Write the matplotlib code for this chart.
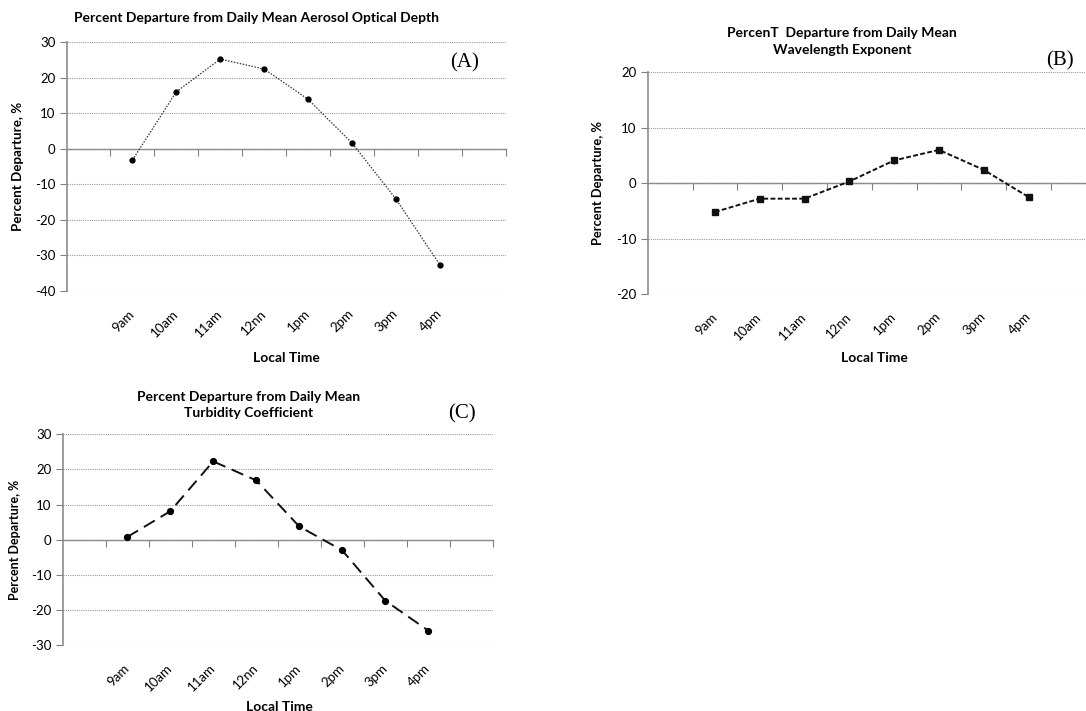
import numpy as np
import matplotlib
matplotlib.use("Agg")
import matplotlib.pyplot as plt

plt.rcParams['font.family'] = ['Lato', 'DejaVu Sans']
plt.rcParams['axes.unicode_minus'] = False

W, H = 1086, 711

times = ["9am", "10am", "11am", "12nn", "1pm", "2pm", "3pm", "4pm"]

# values, percent departure from the daily mean
aod = [-3.2, 16.0, 25.2, 22.4, 13.9, 1.6, -14.1, -32.6]
alpha = [-5.2, -2.8, -2.8, 0.3, 4.1, 6.0, 2.4, -2.5]
alpha_err = [0.2, 0.4, 0.5, 0.4, 0.6, 0.6, 0.4, 0.2]
beta = [0.8, 8.1, 22.3, 16.9, 3.8, -3.0, -17.3, -25.8]


def frac(x, y):
    # pixel position -> figure fraction
    return x / W, 1 - y / H


def add_axes(left, top, right, bottom):
    return fig.add_axes([left / W, 1 - bottom / H, (right - left) / W, (bottom - top) / H])


def setup_panel(ax, ylim, step, pad):
    x = np.arange(len(times))
    ax.set_xlim(-1.5, len(times) + 0.5)
    ax.set_ylim(*ylim)
    ax.set_yticks(np.arange(ylim[0], ylim[1] + 1, step))
    ax.set_xticks(x)
    ax.set_xticklabels(times, rotation=45, ha="right", va="center", rotation_mode="anchor")
    ax.tick_params(axis="x", length=0, pad=pad, labelsize=9.5)
    ax.tick_params(axis="y", length=5, width=0.8, color="#808080", labelsize=9.5, pad=3)
    for s in ["top", "right", "bottom"]:
        ax.spines[s].set_visible(False)
    ax.spines["left"].set_color("#8c8c8c")
    ax.spines["left"].set_linewidth(1.2)
    ax.grid(axis="y", linestyle=(0, (1, 1)), color="#9a9a9a", linewidth=0.8)
    ax.set_axisbelow(True)

    # horizontal axis crosses at zero, ticks between categories
    sec = ax.secondary_xaxis(-ylim[0] / (ylim[1] - ylim[0]))
    sec.set_alignment("bottom")
    sec.set_xticks(np.arange(-0.5, len(times) + 1, 1))
    sec.set_xticklabels([])
    sec.tick_params(length=5, width=0.8, color="#808080", direction="out")
    for s in ["top", "bottom"]:
        sec.spines[s].set_color("#808080")
        sec.spines[s].set_linewidth(1.0)


fig = plt.figure(figsize=(W / 100, H / 100), dpi=100)

# (A) aerosol optical depth
axA = add_axes(66.5, 42, 505.7, 291)
setup_panel(axA, (-40, 30), 10, 15)
axA.plot(np.arange(8), aod, color="#333333", linestyle=(0, (1.2, 1.2)), linewidth=0.9,
         marker="o", markersize=3.5, markerfacecolor="black", markeredgecolor="black")
fig.text(*frac(257, 18), "Percent Departure from Daily Mean Aerosol Optical Depth",
         ha="center", va="center", fontsize=10, fontweight="bold")
fig.text(*frac(18, 166), "Percent Departure, %", rotation=90, ha="center", va="center",
         fontsize=9.6, fontweight="bold")
fig.text(*frac(286, 358), "Local Time", ha="center", va="center", fontsize=10, fontweight="bold")
fig.text(*frac(465, 63), "(A)", ha="center", va="center", fontsize=15,
         family="Liberation Serif")

# (B) wavelength exponent
axB = add_axes(647.7, 72.3, 1095.7, 294)
setup_panel(axB, (-20, 20), 10, 15)
axB.errorbar(np.arange(8), alpha, yerr=alpha_err, color="#111111", linestyle=(0, (2.5, 1.2)),
             linewidth=1.4, marker="s", markersize=4, elinewidth=1, capsize=0,
             ecolor="#111111")
fig.text(*frac(842, 41.7), "PercenT  Departure from Daily Mean\nWavelength Exponent",
         ha="center", va="center", fontsize=10, fontweight="bold", linespacing=1.5)
fig.text(*frac(598, 183), "Percent Departure, %", rotation=90, ha="center", va="center",
         fontsize=9.3, fontweight="bold")
fig.text(*frac(874, 358), "Local Time", ha="center", va="center", fontsize=10, fontweight="bold")
fig.text(*frac(1060, 61), "(B)", ha="center", va="center", fontsize=15,
         family="Liberation Serif")

# (C) turbidity coefficient
axC = add_axes(62.7, 434.3, 492.7, 645.3)
setup_panel(axC, (-30, 30), 10, 15)
axC.plot(np.arange(8), beta, color="#111111", linestyle=(0, (6.5, 3.5)), linewidth=1.4,
         marker="o", markersize=4.2, markerfacecolor="black", markeredgecolor="black")
fig.text(*frac(249, 405), "Percent Departure from Daily Mean\nTurbidity Coefficient",
         ha="center", va="center", fontsize=10, fontweight="bold", linespacing=1.4)
fig.text(*frac(15, 540), "Percent Departure, %", rotation=90, ha="center", va="center",
         fontsize=9, fontweight="bold")
fig.text(*frac(279, 707), "Local Time", ha="center", va="center", fontsize=10, fontweight="bold")
fig.text(*frac(462, 414), "(C)", ha="center", va="center", fontsize=15,
         family="Liberation Serif")

fig.savefig("out.png", dpi=100)
